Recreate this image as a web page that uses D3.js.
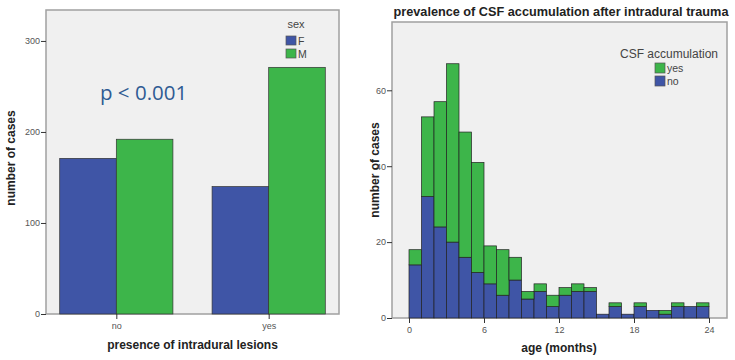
<!DOCTYPE html>
<html lang="en">
<head>
<meta charset="utf-8">
<style>
  body { margin: 0; background: white; }
  svg { font-family: 'Liberation Sans', Arial, sans-serif; }
  .axis text { fill: #555; font-size: 9px; }
  .axis line { stroke: #333; }
  .axis path { display: none; }
  .frame { fill: #f0f0f0; stroke: #a0a0a0; stroke-width: 1.5px; }
  .atitle { font-weight: bold; font-size: 12px; fill: #222; }
  .legend text { fill: #444; }
</style>
</head>
<body>
<svg width="735" height="360"></svg>
<script src="https://d3js.org/d3.v7.min.js"></script>
<script>
// left chart: cases by lesion presence and sex
const lesionCats = ["no", "yes"]
const sexKeys = ["F", "M"]
const casesF = [171, 140]
const casesM = [192, 271]
const leftTicks = [0, 100, 200, 300]

// right chart: monthly age bins, stacked by CSF accumulation
const ageBins = [0,1,2,3,4,5,6,7,8,9,10,11,12,13,14,15,16,17,18,19,20,21,22,23]
const csfNo  = [14,32,24,20,16,12,9,6,10,5,7,3,6,7,7,1,3,1,3,2,1,3,3,3]
const csfYes = [4,21,33,47,33,29,10,12,6,2,2,3,2,2,1,0,1,0,1,0,1,1,0,1]
const ageTicks = [0, 6, 12, 18, 24]
const rightTicks = [0, 20, 40, 60]

const blue = "#3f55a6", green = "#3db54a"
const svg = d3.select("svg")

/* ---------- left ---------- */
const L = { left: 46, right: 339, top: 10, bottom: 314 }
svg.append("rect").attr("class", "frame")
  .attr("x", L.left).attr("y", L.top)
  .attr("width", L.right - L.left).attr("height", L.bottom - L.top)

const x0 = d3.scaleBand().domain(lesionCats).range([L.left, L.right])
  .paddingInner(0.257).paddingOuter(0.09)
const x1 = d3.scaleBand().domain(sexKeys).range([0, x0.bandwidth()])
const yL = d3.scaleLinear().domain([0, 334]).range([L.bottom, L.top])

const grouped = lesionCats.map((c, i) => ({ cat: c, vals: [{ k: "F", v: casesF[i] }, { k: "M", v: casesM[i] }] }))
svg.append("g").selectAll("g").data(grouped).join("g")
  .attr("transform", d => "translate(" + x0(d.cat) + ",0)")
  .selectAll("rect").data(d => d.vals).join("rect")
  .attr("x", d => x1(d.k)).attr("width", x1.bandwidth())
  .attr("y", d => yL(d.v)).attr("height", d => yL(0) - yL(d.v))
  .attr("fill", d => d.k == "F" ? blue : green)
  .attr("stroke", "#333").attr("stroke-width", 0.7)

svg.append("g").attr("class", "axis")
  .attr("transform", "translate(" + L.left + ",0)")
  .call(d3.axisLeft(yL).tickValues(leftTicks).tickSize(5).tickPadding(1))

const xCenter = d3.scalePoint().domain(lesionCats).range([x0("no") + x0.bandwidth() / 2, x0("yes") + x0.bandwidth() / 2])
svg.append("g").attr("class", "axis")
  .attr("transform", "translate(0," + L.bottom + ")")
  .call(d3.axisBottom(xCenter).tickSize(5).tickPadding(4))

svg.append("text").attr("class", "atitle")
  .attr("x", (L.left + L.right) / 2).attr("y", 349).attr("text-anchor", "middle")
  .text("presence of intradural lesions")
svg.append("text").attr("class", "atitle")
  .attr("transform", "translate(15,158) rotate(-90)").attr("text-anchor", "middle")
  .text("number of cases")

svg.append("text").attr("x", 100).attr("y", 100)
  .attr("font-family", "'Open Sans', sans-serif").attr("font-size", 20.5)
  .attr("fill", "#2f5b93").text("p < 0.001")

const legL = svg.append("g").attr("class", "legend")
legL.append("text").attr("x", 296).attr("y", 28).attr("text-anchor", "middle")
  .attr("font-size", 11).text("sex")
sexKeys.forEach((k, i) => {
  legL.append("rect").attr("x", 286).attr("y", 36 + i * 13).attr("width", 10).attr("height", 9)
    .attr("fill", k == "F" ? blue : green).attr("stroke", "#555").attr("stroke-width", 0.7)
  legL.append("text").attr("x", 298).attr("y", 45 + i * 13).attr("font-size", 10.5).text(k)
})

/* ---------- right ---------- */
const R = { left: 392, right: 727, top: 22, bottom: 318 }
svg.append("text").attr("x", 561).attr("y", 16).attr("text-anchor", "middle")
  .attr("font-weight", "bold").attr("font-size", 12.7).attr("fill", "#222")
  .text("prevalence of CSF accumulation after intradural trauma")
svg.append("rect").attr("class", "frame")
  .attr("x", R.left).attr("y", R.top)
  .attr("width", R.right - R.left).attr("height", R.bottom - R.top)

const xR = d3.scaleLinear().domain([-1.36, 25.44]).range([R.left, R.right])
const yR = d3.scaleLinear().domain([0, 78]).range([R.bottom, R.top])

const rows = ageBins.map((b, i) => ({ bin: b, no: csfNo[i], yes: csfYes[i] }))
const stacked = d3.stack().keys(["no", "yes"])(rows)
svg.append("g").selectAll("g").data(stacked).join("g")
  .attr("fill", d => d.key == "no" ? blue : green)
  .selectAll("rect").data(d => d.filter(s => s[1] > s[0])).join("rect")
  .attr("x", d => xR(d.data.bin)).attr("width", xR(1) - xR(0))
  .attr("y", d => yR(d[1])).attr("height", d => yR(d[0]) - yR(d[1]))
  .attr("stroke", "#222").attr("stroke-width", 0.7)

svg.append("g").attr("class", "axis")
  .attr("transform", "translate(" + R.left + ",0)")
  .call(d3.axisLeft(yR).tickValues(rightTicks).tickSize(5).tickPadding(1))
svg.append("g").attr("class", "axis")
  .attr("transform", "translate(0," + R.bottom + ")")
  .call(d3.axisBottom(xR).tickValues(ageTicks).tickSize(5).tickPadding(4))

svg.append("text").attr("class", "atitle")
  .attr("x", xR(12)).attr("y", 352).attr("text-anchor", "middle")
  .text("age (months)")
svg.append("text").attr("class", "atitle")
  .attr("transform", "translate(379,170) rotate(-90)").attr("text-anchor", "middle")
  .text("number of cases")

const legR = svg.append("g").attr("class", "legend")
legR.append("text").attr("x", 620).attr("y", 58).attr("font-size", 12).text("CSF accumulation")
;[["yes", green], ["no", blue]].forEach((p, i) => {
  legR.append("rect").attr("x", 655).attr("y", 63 + i * 13).attr("width", 10).attr("height", 10)
    .attr("fill", p[1]).attr("stroke", "#555").attr("stroke-width", 0.7)
  legR.append("text").attr("x", 667).attr("y", 72 + i * 13).attr("font-size", 10.5).text(p[0])
})
</script>
</body>
</html>
